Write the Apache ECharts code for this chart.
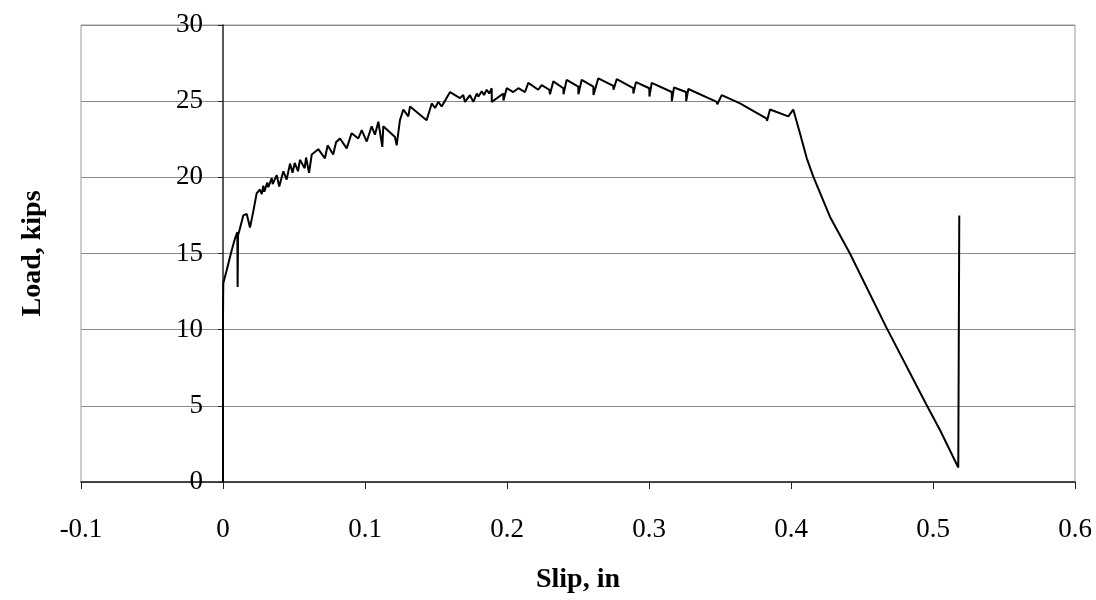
<!DOCTYPE html>
<html>
<head>
<meta charset="utf-8">
<script src="https://cdn.jsdelivr.net/npm/echarts@6/dist/echarts.min.js"></script>
<style>html,body{margin:0;padding:0;background:#fff}#c{width:1096px;height:600px}</style>
</head>
<body>
<div id="c"></div>
<script>
// Slip (in) and load (kips)
const slip = [0, 0, 0.0001, 0.0002, 0.0026, 0.0061, 0.0085, 0.0101, 0.0103, 0.0106, 0.0115, 0.0143, 0.0167, 0.019, 0.0213, 0.0237,
  0.026, 0.0273, 0.0284, 0.0291, 0.0312, 0.0319, 0.0343, 0.035, 0.0378, 0.0396, 0.0425, 0.0448, 0.0472, 0.049, 0.0505, 0.0528, 0.0542,
  0.0575, 0.0585, 0.0606, 0.0625, 0.0671, 0.0718, 0.0737, 0.0776, 0.0796, 0.0824, 0.0871, 0.0906, 0.0953, 0.0977, 0.1012, 0.1047, 0.107,
  0.1094, 0.1122, 0.1129, 0.1211, 0.1223, 0.1246, 0.127, 0.1305, 0.1317, 0.1434, 0.147, 0.1493, 0.1516, 0.154, 0.1599, 0.1669, 0.1692,
  0.1704, 0.1739, 0.1763, 0.1787, 0.1798, 0.1822, 0.1838, 0.1857, 0.1875, 0.1892, 0.1893, 0.1974, 0.1975, 0.1998, 0.2044, 0.208, 0.2127,
  0.215, 0.222, 0.2244, 0.2298, 0.2303, 0.2326, 0.2397, 0.2398, 0.242, 0.2502, 0.2503, 0.2526, 0.2608, 0.2609, 0.2643, 0.2749, 0.275,
  0.2773, 0.2889, 0.289, 0.2908, 0.3002, 0.3003, 0.3019, 0.316, 0.3161, 0.3176, 0.3261, 0.3262, 0.3277, 0.3477, 0.3481, 0.3512, 0.3641,
  0.3829, 0.3831, 0.3852, 0.3981, 0.4016, 0.4063, 0.4111, 0.4157, 0.4275, 0.4415, 0.4674, 0.4955, 0.505, 0.5178, 0.5185, 0.5185];
const load = [0, 10.8, 12.2, 13.05, 13.9, 15.2, 16.0, 16.4, 12.8, 16.2, 16.5, 17.5, 17.6, 16.7, 17.75, 18.95,
  19.2, 18.9, 19.45, 19.05, 19.65, 19.35, 19.95, 19.55, 20.15, 19.4, 20.4, 19.85, 20.9, 20.3, 20.95, 20.4, 21.15,
  20.6, 21.3, 20.3, 21.5, 21.85, 21.25, 22.1, 21.5, 22.3, 22.55, 21.9, 22.9, 22.55, 23.1, 22.35, 23.35, 22.8,
  23.65, 22.0, 23.35, 22.65, 22.1, 23.75, 24.45, 24.0, 24.65, 23.75, 24.85, 24.55, 24.95, 24.65, 25.6, 25.2, 25.4,
  24.95, 25.4, 24.95, 25.5, 25.3, 25.65, 25.4, 25.75, 25.5, 25.85, 24.95, 25.5, 25.05, 25.85, 25.6, 25.85, 25.6,
  26.2, 25.75, 26.05, 25.75, 25.45, 26.3, 25.85, 25.45, 26.4, 25.95, 25.45, 26.4, 25.95, 25.4, 26.5, 26.0, 25.75,
  26.45, 25.85, 25.5, 26.25, 25.85, 25.3, 26.2, 25.6, 25.0, 25.9, 25.6, 25.0, 25.8, 24.95, 24.8, 25.4, 24.85,
  23.85, 23.7, 24.45, 24.0, 24.45, 22.9, 21.25, 20.05, 17.4, 15.0, 10.1, 5.05, 3.4, 0.95, 0.95, 17.5];
const xTicks = [-0.1, 0, 0.1, 0.2, 0.3, 0.4, 0.5, 0.6];
const yTicks = [0, 5, 10, 15, 20, 25, 30];

const pts = slip.map((x, i) => [x, load[i]]);
const font = '"Liberation Serif","Times New Roman",serif';
const chart = echarts.init(document.getElementById('c'));
chart.setOption({
  animation: false,
  backgroundColor: '#fff',
  grid: { left: 81, right: 21, top: 25, bottom: 118, show: true, borderColor: '#9a9a9a', borderWidth: 1,
    containLabel: false, outerBoundsMode: 'none' },
  xAxis: {
    type: 'value', min: xTicks[0], max: xTicks[xTicks.length - 1], interval: 0.1,
    name: 'Slip, in', nameLocation: 'middle', nameGap: 84,
    nameTextStyle: { fontFamily: font, fontSize: 28, fontWeight: 'bold', color: '#000' },
    axisLine: { onZero: true, lineStyle: { color: '#222', width: 1.5 } },
    axisTick: { show: true, length: 7, inside: false, lineStyle: { color: '#222' } },
    axisLabel: { fontFamily: font, fontSize: 27, color: '#000', margin: 34,
      formatter: v => Math.abs(v) < 1e-9 ? '0' : v.toFixed(1) },
    splitLine: { show: false }
  },
  yAxis: {
    type: 'value', min: yTicks[0], max: yTicks[yTicks.length - 1], interval: 5,
    offset: -142,
    name: 'Load, kips', nameLocation: 'middle', nameGap: 176, nameRotate: 90,
    nameTextStyle: { fontFamily: font, fontSize: 28, fontWeight: 'bold', color: '#000' },
    axisLine: { onZero: false, lineStyle: { color: '#222', width: 1.5 } },
    axisTick: { show: true, length: 5, lineStyle: { color: '#222' } },
    axisLabel: { fontFamily: font, fontSize: 27, color: '#000', margin: 20 },
    splitLine: { show: true, lineStyle: { color: '#8a8a8a', width: 1 } }
  },
  series: [{
    type: 'line', data: pts, showSymbol: false, symbol: 'none',
    lineStyle: { color: '#000', width: 2 }, z: 5
  }]
});
</script>
</body>
</html>
